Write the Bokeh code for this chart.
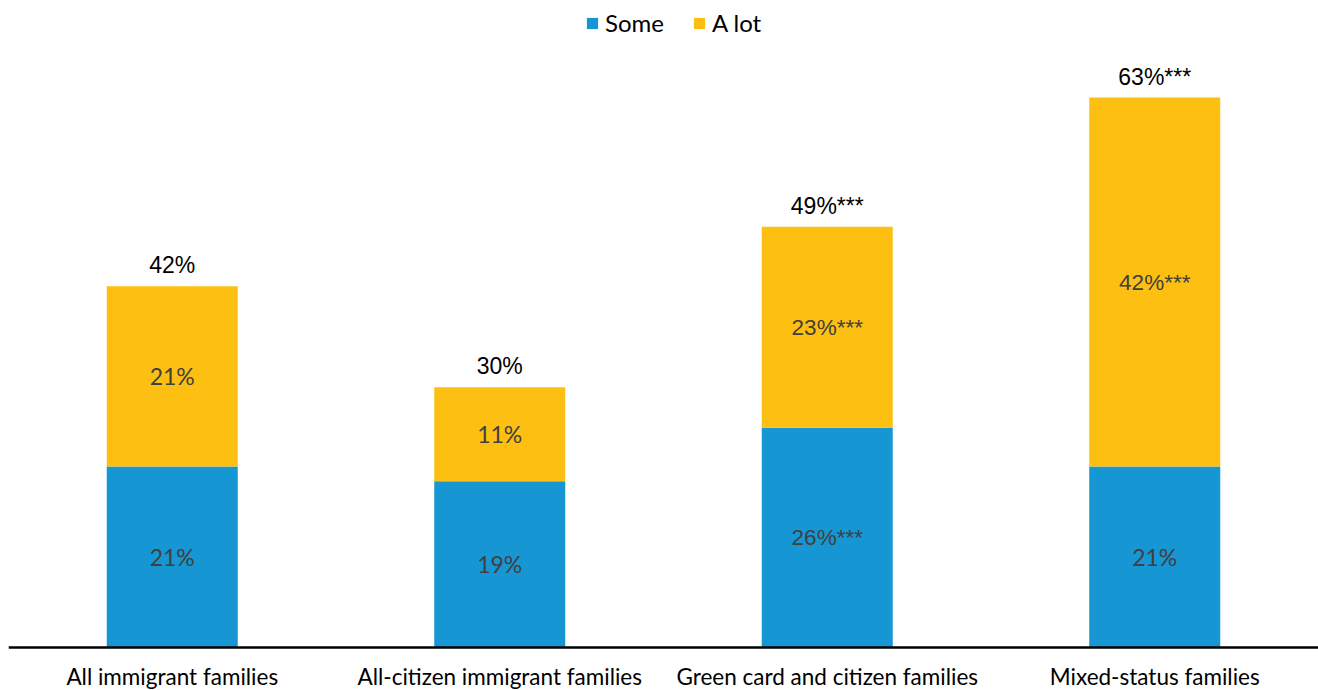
from bokeh.plotting import figure
from bokeh.models import ColumnDataSource, FactorRange, Range1d, Legend, LegendItem, Span
from bokeh.core.properties import value
from bokeh.embed import file_html
from bokeh.resources import INLINE

categories = ["All immigrant families", "All-citizen immigrant families",
              "Green card and citizen families", "Mixed-status families"]
some = [21.0, 19.3, 25.5, 21.0]
a_lot = [20.9, 10.9, 23.3, 42.8]
some_labels = ["21%", "19%", "26%***", "21%"]
alot_labels = ["21%", "11%", "23%***", "42%***"]
total_labels = ["42%", "30%", "49%***", "63%***"]

BLUE = "#1696d2"
YELLOW = "#fdbf11"
FONT = "Lato"
ALT = "Liberation Sans"
INNER = "#404040"

p = figure(x_range=FactorRange(*categories, range_padding=0), y_range=Range1d(-4.99, 75.06),
           width=1318, height=690, output_backend="svg", toolbar_location=None,
           min_border_left=8, min_border_right=0, min_border_top=0, min_border_bottom=0)
p.outline_line_color = None
p.xgrid.visible = False
p.ygrid.visible = False
p.yaxis.visible = False
p.xaxis.visible = False
p.background_fill_color = "white"

src = ColumnDataSource(dict(cat=categories, some=some, alot=a_lot))
r = p.vbar_stack(["some", "alot"], x="cat", width=0.4, source=src,
                 color=[BLUE, YELLOW], line_color=None)

# baseline (category axis line)
p.add_layout(Span(location=0, dimension="width", line_color="black", line_width=2.5))

# category labels below the baseline
cat_src = ColumnDataSource(dict(x=categories, y=[0] * len(categories), t=categories))
p.text(x="x", y="y", text="t", source=cat_src, y_offset=29,
       text_align="center", text_baseline="middle",
       text_font=value(FONT), text_font_size="22.5px", text_color="black")

legend = Legend(items=[LegendItem(label="Some", renderers=[r[0]]),
                       LegendItem(label="A lot", renderers=[r[1]])],
                orientation="horizontal", location=(577, 653),
                label_text_font=FONT, label_text_font_size="24px", label_text_color="black",
                glyph_width=14, glyph_height=14, spacing=28, label_standoff=6,
                border_line_color=None, background_fill_alpha=0, margin=0, padding=0)
p.add_layout(legend)


def add_labels(ys, labels, color, baseline, yoff):
    plain = dict(x=[], y=[], t=[])
    starred = dict(x=[], y=[], t=[])
    for c, yv, t in zip(categories, ys, labels):
        d = starred if t.endswith("*") else plain
        d["x"].append(c); d["y"].append(yv); d["t"].append(t)
    p.text(x="x", y="y", text="t", source=ColumnDataSource(plain), text_align="center",
           text_baseline=baseline, y_offset=yoff, text_font=value(FONT if color == INNER else ALT),
           text_font_size="23px", text_color=color)
    p.text(x="x", y="y", text="t", source=ColumnDataSource(starred), text_align="center",
           text_baseline=baseline, y_offset=yoff, text_font=value(ALT),
           text_font_size="22.5px" if color == INNER else "23px", text_color=color)


some_mid = [s / 2 for s in some]
alot_mid = [s + a / 2 for s, a in zip(some, a_lot)]
totals = [s + a for s, a in zip(some, a_lot)]
add_labels(some_mid, some_labels, INNER, "middle", 0)
add_labels(alot_mid, alot_labels, INNER, "middle", 0)
add_labels(totals, total_labels, "black", "bottom", -8)

open("out.html", "w").write(file_html(p, INLINE))
